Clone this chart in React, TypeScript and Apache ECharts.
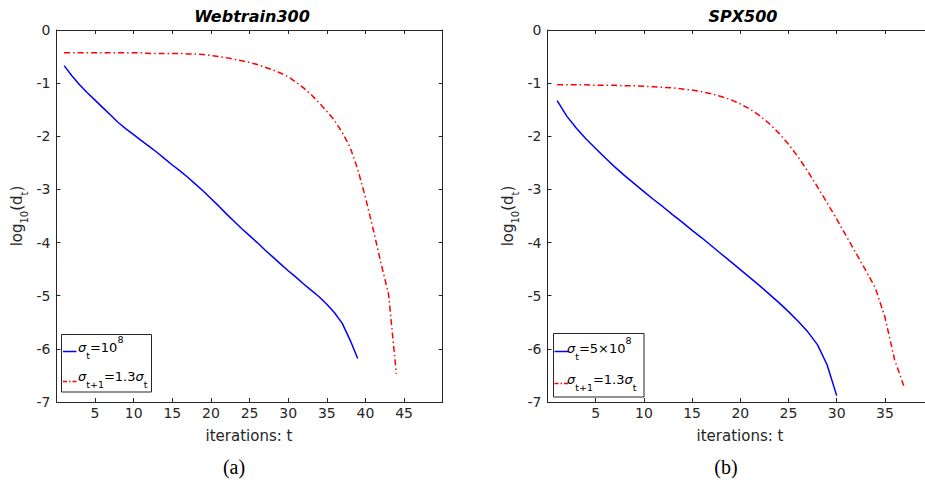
import React, { useEffect, useRef } from 'react';
import * as echarts from 'echarts';

// ---- data (log10 of duality gap per iteration t = 1, 2, ...) ----
const webBlue = [-0.67, -0.86, -1.03, -1.18, -1.32, -1.46, -1.6, -1.74, -1.86, -1.97, -2.08, -2.19, -2.3, -2.42, -2.54, -2.65, -2.77, -2.9, -3.03, -3.17, -3.31, -3.46, -3.6, -3.74, -3.87, -4.0, -4.14, -4.27, -4.4, -4.53, -4.65, -4.78, -4.9, -5.02, -5.16, -5.32, -5.52, -5.83, -6.18];
const webRed = [-0.43, -0.43, -0.43, -0.43, -0.43, -0.43, -0.43, -0.43, -0.43, -0.43, -0.43, -0.44, -0.44, -0.44, -0.44, -0.44, -0.45, -0.45, -0.46, -0.48, -0.5, -0.52, -0.55, -0.58, -0.61, -0.65, -0.7, -0.75, -0.81, -0.88, -0.98, -1.09, -1.22, -1.37, -1.53, -1.7, -1.93, -2.2, -2.62, -3.15, -3.75, -4.38, -4.98, -6.47];
const spxBlue = [-1.33, -1.62, -1.85, -2.05, -2.23, -2.41, -2.58, -2.74, -2.89, -3.04, -3.19, -3.33, -3.48, -3.62, -3.77, -3.91, -4.06, -4.21, -4.36, -4.51, -4.66, -4.81, -4.97, -5.13, -5.3, -5.48, -5.68, -5.92, -6.3, -6.88];
const spxRed = [-1.03, -1.03, -1.03, -1.03, -1.04, -1.04, -1.04, -1.05, -1.05, -1.06, -1.07, -1.08, -1.09, -1.11, -1.13, -1.16, -1.2, -1.25, -1.31, -1.39, -1.49, -1.61, -1.76, -1.94, -2.15, -2.39, -2.66, -2.95, -3.25, -3.56, -3.88, -4.2, -4.52, -4.85, -5.4, -6.2, -6.72];

const titles = ['Webtrain300', 'SPX500'];
const captions = ['(a)', '(b)'];
const xMaxes = [50, 40];
const yMin = -7;
const yMax = 0;
const xLabel = 'iterations: t';
const legendBlue = ['{s|σ}{sub|t}{n|=10}{sup|8}', '{s|σ}{sub|t}{n|=5×10}{sup|8}'];
const legendRed = '{s|σ}{sub|t+1}{n|=1.3}{s|σ}{sub|t}';

const FONT = '"DejaVu Sans", sans-serif';
const AX = '#262626';
const BLUE = '#0000ff';
const RED = '#ff0000';
const DASHDOT = [6, 3, 1.5, 3];

const pairs = (vals: number[]) => vals.map((v, i) => [i + 1, v]);

const grids = [
  { left: 56.4, top: 30, width: 386.3, height: 372 },
  { left: 547.5, top: 30, width: 385.6, height: 372 },
];

const legendRich = {
  n: { fontSize: 13, fontFamily: FONT, fill: '#000', lineHeight: 26 },
  s: { fontSize: 13, fontFamily: FONT, fontStyle: 'italic', fill: '#000', lineHeight: 26 },
  sub: { fontSize: 9.5, fontFamily: FONT, fill: '#000', lineHeight: 10, verticalAlign: 'bottom' },
  sup: { fontSize: 9.5, fontFamily: FONT, fill: '#000', lineHeight: 20, verticalAlign: 'top' },
};

const App: React.FC = () => {
  const ref = useRef<HTMLDivElement>(null);
  useEffect(() => {
    if (!ref.current) return;
    const chart = echarts.init(ref.current, undefined, { renderer: 'svg' });

    const xAxes: any[] = [];
    const yAxes: any[] = [];
    [0, 1].forEach((g) => {
      const max = xMaxes[g];
      const common = {
        type: 'value',
        gridIndex: g,
        splitLine: { show: false },
        axisLine: { show: true, onZero: false, lineStyle: { color: AX, width: 1 } },
        axisTick: { show: true, inside: true, length: 4, lineStyle: { color: AX, width: 1 } },
      };
      xAxes.push({
        ...common, min: 0, max, interval: 5, position: 'bottom',
        axisLabel: {
          show: true, margin: 4, color: AX, fontFamily: FONT, fontSize: 14,
          formatter: (v: number) => (v === 0 || v === max ? '' : String(v)),
        },
      });
      xAxes.push({ ...common, min: 0, max, interval: 5, position: 'top', axisLabel: { show: false } });
      yAxes.push({
        ...common, min: yMin, max: yMax, interval: 1, position: 'left',
        axisLabel: { show: true, margin: 6, color: AX, fontFamily: FONT, fontSize: 14 },
      });
      yAxes.push({ ...common, min: yMin, max: yMax, interval: 1, position: 'right', axisLabel: { show: false } });
    });

    const mk = (data: number[], g: number, color: string, dash: any) => ({
      type: 'line',
      xAxisIndex: g * 2,
      yAxisIndex: g * 2,
      data: pairs(data),
      symbol: 'none',
      smooth: false,
      lineStyle: { color, width: 1.5, type: dash },
      z: 3,
    });

    const graphics: any[] = [];
    const titleX = [252, 743];
    const xLabX = [249, 740];
    const capX = [234, 726];
    const yLabX = [17, 508];
    [0, 1].forEach((g) => {
      graphics.push({
        type: 'text', x: titleX[g], y: 16,
        style: { text: titles[g], font: `italic bold 16px ${FONT}`, fill: '#000', align: 'center', verticalAlign: 'middle' },
      });
      graphics.push({
        type: 'text', x: xLabX[g], y: 436,
        style: { text: xLabel, font: `15px ${FONT}`, fill: AX, align: 'center', verticalAlign: 'middle' },
      });
      graphics.push({
        type: 'text', x: capX[g], y: 467,
        style: { text: captions[g], font: `20px "Liberation Serif", serif`, fill: '#000', align: 'center', verticalAlign: 'middle' },
      });
      graphics.push({
        type: 'text', x: yLabX[g], y: 216, rotation: Math.PI / 2,
        style: {
          text: '{n|log}{sub|10}{n|(d}{sub|t}{n|)}',
          align: 'center', verticalAlign: 'middle',
          rich: {
            n: { fontSize: 15, fontFamily: FONT, fill: AX, lineHeight: 24 },
            sub: { fontSize: 10, fontFamily: FONT, fill: AX, lineHeight: 10, verticalAlign: 'bottom' },
          },
        },
      });
    });

    const legBoxes = [
      { x: 61.5, y: 334.5, w: 90, h: 57.5, r1: 347, l1: 351.5, r2: 376, l2: 381.5, lx: 63, tx: 78 },
      { x: 553.5, y: 333.5, w: 90.5, h: 63.5, r1: 348, l1: 351.5, r2: 379, l2: 383.5, lx: 554.5, tx: 567 },
    ];
    legBoxes.forEach((b, g) => {
      graphics.push({
        type: 'rect', shape: { x: b.x, y: b.y, width: b.w, height: b.h },
        style: { fill: '#fff', stroke: AX, lineWidth: 1 }, z: 10,
      });
      graphics.push({
        type: 'line', shape: { x1: b.lx, y1: b.l1, x2: b.lx + 13.5, y2: b.l1 },
        style: { stroke: BLUE, lineWidth: 1.5 }, z: 11,
      });
      graphics.push({
        type: 'line', shape: { x1: b.lx, y1: b.l2, x2: b.lx + 13.5, y2: b.l2 },
        style: { stroke: RED, lineWidth: 1.5, lineDash: [4, 2, 1.5, 2] }, z: 11,
      });
      graphics.push({
        type: 'text', x: b.tx, y: b.r1, z: 11,
        style: { text: legendBlue[g], align: 'left', verticalAlign: 'middle', rich: legendRich },
      });
      graphics.push({
        type: 'text', x: b.tx, y: b.r2, z: 11,
        style: { text: legendRed, align: 'left', verticalAlign: 'middle', rich: legendRich },
      });
    });

    chart.setOption({
      animation: false,
      backgroundColor: '#fff',
      grid: grids.map((g) => ({ ...g, containLabel: false })),
      xAxis: xAxes,
      yAxis: yAxes,
      series: [
        mk(webBlue, 0, BLUE, 'solid'),
        mk(webRed, 0, RED, DASHDOT),
        mk(spxBlue, 1, BLUE, 'solid'),
        mk(spxRed, 1, RED, DASHDOT),
      ],
      graphic: graphics,
    });

    return () => chart.dispose();
  }, []);

  return (
    <div
      ref={ref}
      style={{ position: 'fixed', left: 0, top: 0, width: 945, height: 486, background: '#fff' }}
    />
  );
};

export default App;
